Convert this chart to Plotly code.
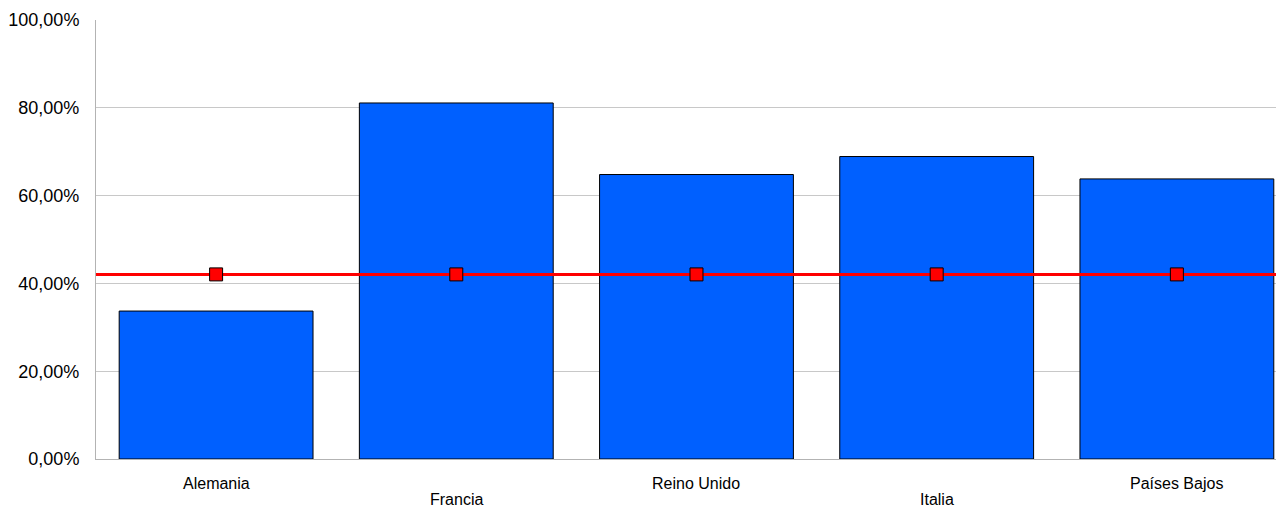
import plotly.graph_objects as go

categories = ["Alemania", "Francia", "Reino Unido", "Italia", "Países Bajos"]
values = [0.337, 0.811, 0.648, 0.689, 0.638]
average = 0.4205
y_ticks = [0, 0.2, 0.4, 0.6, 0.8, 1.0]

xpos = list(range(len(categories)))
x_max = len(categories) - 0.554  # plot area is cut at the right edge of the picture

fig = go.Figure()
fig.add_trace(go.Bar(
    x=xpos, y=values, width=0.807,
    marker=dict(color="#0060ff", line=dict(color="#000000", width=1)),
    showlegend=False, hoverinfo="skip",
))
fig.add_trace(go.Scatter(
    x=[-0.5, x_max], y=[average, average], mode="lines",
    line=dict(color="#ff0000", width=3), showlegend=False, hoverinfo="skip",
))
fig.add_trace(go.Scatter(
    x=xpos, y=[average] * len(categories), mode="markers",
    marker=dict(symbol="square", size=13, color="#ff0000",
                line=dict(color="#000000", width=1)),
    showlegend=False, hoverinfo="skip",
))

# staggered category labels
for i, c in enumerate(categories):
    fig.add_annotation(
        x=i, y=0, xref="x", yref="y", text=c, showarrow=False,
        xanchor="center", yanchor="middle",
        yshift=-24 if i % 2 == 0 else -40,
        font=dict(size=16, color="#000000"),
    )

fig.update_layout(
    width=1276, height=498,
    margin=dict(l=88, r=0, t=12, b=47),
    paper_bgcolor="white", plot_bgcolor="white",
    separators=",.",
    font=dict(family="Liberation Sans, Arial, sans-serif", color="#000000"),
    xaxis=dict(
        range=[-0.5, x_max],
        tickvals=xpos, showticklabels=False,
        showgrid=False, zeroline=False,
        showline=True, linecolor="#b3b3b3", linewidth=1,
        ticks="",
    ),
    yaxis=dict(
        range=[0, 1.0], tickvals=y_ticks, tickformat=".2%",
        tickfont=dict(size=18),
        showgrid=True, gridcolor="#c8c8c8", gridwidth=1,
        zeroline=False,
        showline=True, linecolor="#b3b3b3", linewidth=1,
        ticks="", ticklabelstandoff=12,
    ),
)

fig.write_html("out.html")
